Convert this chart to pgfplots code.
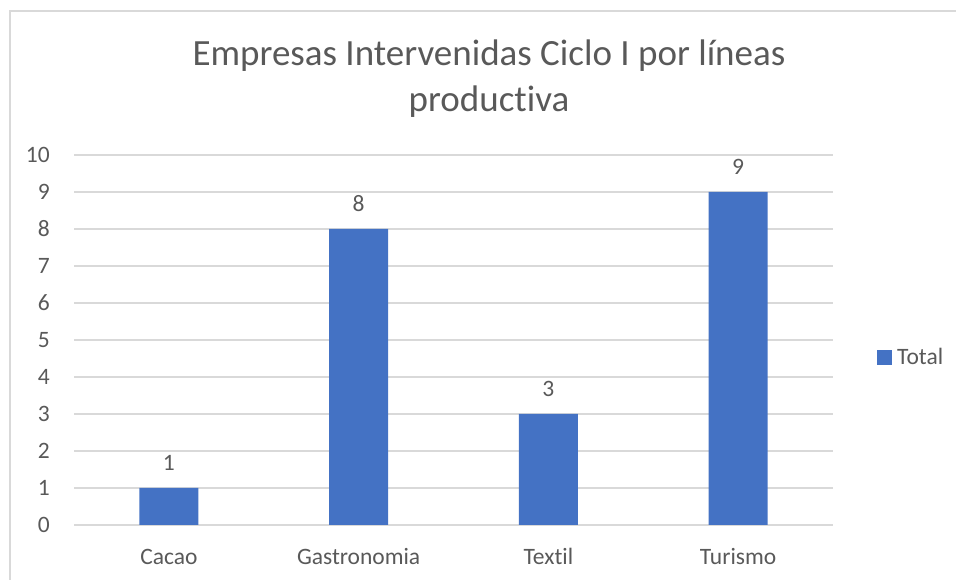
\documentclass[border=0pt]{standalone}
\usepackage{pgfplots}
\pgfplotsset{compat=1.18}
\usepackage{fontspec}
\setmainfont{Carlito}[Ligatures=NoCommon]
\definecolor{barblue}{HTML}{4472C4}
\definecolor{gridgray}{HTML}{D9D9D9}
\definecolor{txtgray}{HTML}{595959}

\begin{document}
\begin{tikzpicture}[x=1pt,y=1pt]
% canvas: 956 x 580, 1pt per pixel
\useasboundingbox (0,0) rectangle (956,580);
\draw[gridgray, line width=1.2pt] (10,0) -- (10,569) -- (956,569);

\node[anchor=base, text=txtgray, font=\fontsize{37}{44}\selectfont] at (489,514) {Empresas Intervenidas Ciclo I por líneas};
\node[anchor=base, text=txtgray, font=\fontsize{37}{44}\selectfont] at (489,468) {productiva};

\begin{axis}[
    at={(74pt,55pt)}, anchor=south west,
    scale only axis,
    width=759pt, height=370pt,
    ybar, bar width=59pt,
    xmin=-0.5, xmax=3.5,
    ymin=0, ymax=10,
    xtick=data,
    xticklabels={Cacao, Gastronomia, Textil, Turismo},
    ytick={0,1,...,10},
    axis line style={draw=none},
    major tick length=0pt,
    ymajorgrids,
    grid style={gridgray, line width=1.2pt},
    tick label style={text=txtgray, font=\fontsize{23.5}{28}\selectfont, inner sep=0pt},
    /pgf/number format/assume math mode=true,
    yticklabel style={anchor=east, xshift=-24pt},
    xticklabel style={anchor=base, yshift=-40pt},
    nodes near coords,
    every node near coord/.append style={text=txtgray, font=\fontsize{23.5}{28}\selectfont, anchor=base, yshift=17pt, inner sep=0pt},
    legend style={draw=none, fill=none, at={(1.054,0.454)}, anchor=west,
        font=\fontsize{23.5}{28}\selectfont, text=txtgray,
        nodes={inner sep=0pt}, column sep=5pt},
    legend image code/.code={\fill[#1] (0pt,-7.5pt) rectangle (15pt,7.5pt);},
]
\addplot[fill=barblue, draw=none] coordinates {
    (0, 1)
    (1, 8)
    (2, 3)
    (3, 9)
};
\addlegendentry{Total}
\end{axis}
\end{tikzpicture}
\end{document}
